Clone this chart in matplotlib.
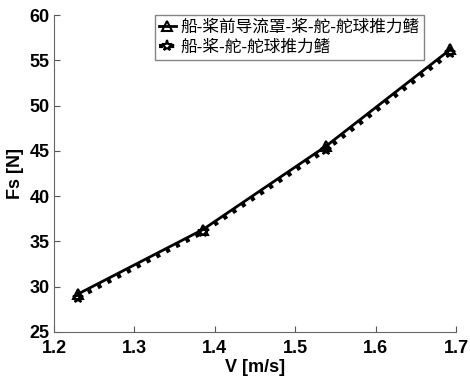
import matplotlib
matplotlib.use("Agg")
import matplotlib.pyplot as plt

plt.rcParams["font.family"] = ["Liberation Sans", "Noto Sans CJK SC", "DejaVu Sans"]

# data
speed = [1.23, 1.385, 1.538, 1.693]
fs_duct = [29.2, 36.3, 45.5, 56.2]
fs_plain = [28.8, 36.0, 45.1, 55.8]
labels = ["船-桨前导流罩-桨-舵-舵球推力鳍", "船-桨-舵-舵球推力鳍"]
x_ticks = [1.2, 1.3, 1.4, 1.5, 1.6, 1.7]
y_ticks = [25, 30, 35, 40, 45, 50, 55, 60]

fig = plt.figure(figsize=(4.7, 3.78), dpi=100)
ax = fig.add_axes([54 / 470, 1 - 332 / 378, 402 / 470, 317 / 378])

ax.plot(speed, fs_duct, "k-", lw=2, marker="^", ms=7, mfc="none", mew=1.5, label=labels[0])
ax.plot(speed, fs_plain, "k:", lw=3, marker="*", ms=8, mfc="none", mew=1.5, label=labels[1])

ax.set_xlim(1.2, 1.7)
ax.set_ylim(25, 60)
ax.set_xticks(x_ticks)
ax.set_yticks(y_ticks)
ax.set_xticklabels([f"{t:.1f}" for t in x_ticks], fontsize=13, fontweight="bold")
ax.set_yticklabels([str(t) for t in y_ticks], fontsize=13, fontweight="bold")
ax.tick_params(direction="in", length=4, color="#555555")
ax.tick_params(axis="x", pad=6)
ax.tick_params(axis="y", pad=3)
for side in ["top", "right"]:
    ax.spines[side].set_visible(False)
for side in ["left", "bottom"]:
    ax.spines[side].set_color("#666666")

ax.set_xlabel("V [m/s]", fontsize=13, fontweight="bold", labelpad=1)
ax.set_ylabel("Fs [N]", fontsize=13, fontweight="bold", labelpad=4)

leg = ax.legend(loc="upper right", bbox_to_anchor=(0.92, 1.0),
                prop={"family": ["Noto Sans CJK SC", "DejaVu Sans"], "size": 12},
                frameon=True, fancybox=False, handlelength=1.0, handletextpad=0.3,
                borderpad=0.25, labelspacing=0.15, borderaxespad=0)
leg.get_frame().set_edgecolor("#666666")
leg.get_frame().set_linewidth(1)

fig.savefig("out.png", dpi=100)
